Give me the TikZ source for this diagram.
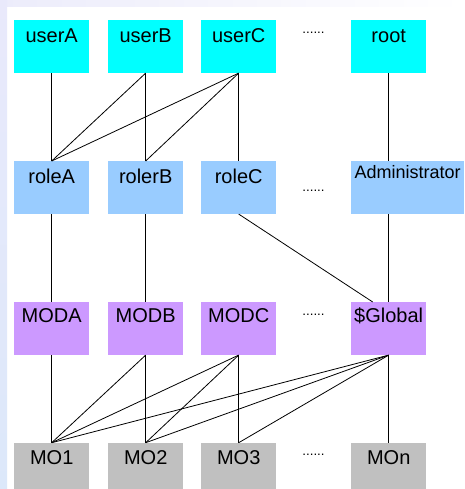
\documentclass[tikz,border=0pt]{standalone}
\usepackage{fontspec}
\setmainfont{Liberation Sans}
\definecolor{cUser}{HTML}{00FFFF}
\definecolor{cRole}{HTML}{99CCFF}
\definecolor{cMod}{HTML}{CC99FF}
\definecolor{cMo}{HTML}{C0C0C0}
\definecolor{stripTop}{HTML}{E9E9FB}
\definecolor{stripBot}{HTML}{DCE8FA}
\definecolor{topStrip}{HTML}{ECECFB}
\begin{document}
\begin{tikzpicture}[x=1pt,y=-1pt,
  box/.style={draw=none, anchor=north west, minimum width=75pt, minimum height=52.7pt,
    inner sep=0pt, text height=22.3pt, text depth=30.4pt, font=\fontsize{20}{24}\selectfont},
  modrow/.style={text height=20.7pt, text depth=32pt},
  morow/.style={text height=21.3pt, text depth=31.4pt},
  dotsnode/.style={anchor=base, inner sep=0pt, font=\fontsize{13.3}{14}\selectfont},
  link/.style={draw=black, line width=0.8pt}]
\useasboundingbox (0,0) rectangle (464,489);
\clip (0,0) rectangle (464,489);
\fill[white] (0,0) rectangle (464,489);
\shade[left color=topStrip, right color=white] (0,0) rectangle (464,7);
\shade[top color=stripTop, bottom color=stripBot] (0,0) rectangle (7,489);

% users
\node[box,fill=cUser] (ua) at (14,20) {userA};
\node[box,fill=cUser] (ub) at (108,20) {userB};
\node[box,fill=cUser] (uc) at (201,20) {userC};
\node[box,fill=cUser] (root) at (351,20) {root};
% roles
\node[box,fill=cRole] (ra) at (14,161) {roleA};
\node[box,fill=cRole] (rb) at (108,161) {rolerB};
\node[box,fill=cRole] (rc) at (201,161) {roleC};
\node[box,fill=cRole,minimum width=113pt,text height=17pt,text depth=35.7pt,
  font=\fontsize{18}{22}\selectfont] (adm) at (351,161) {Administrator};
% modules
\node[box,modrow,fill=cMod] (ma) at (14,302) {MODA};
\node[box,modrow,fill=cMod] (mb) at (108,302) {MODB};
\node[box,modrow,fill=cMod] (mc) at (201,302) {MODC};
\node[box,modrow,fill=cMod] (g) at (351,302) {\$Global};
% managed objects
\node[box,morow,fill=cMo] (m1) at (14,442.7) {MO1};
\node[box,morow,fill=cMo] (m2) at (108,442.7) {MO2};
\node[box,morow,fill=cMo] (m3) at (201,442.7) {MO3};
\node[box,morow,fill=cMo] (mn) at (351,442.7) {MOn};
% dots
\node[dotsnode] (d1) at (313.5,33.5) {......};
\node[dotsnode] (d2) at (313.5,191) {......};
\node[dotsnode] (d3) at (313.5,315) {......};
\node[dotsnode] (d4) at (313.5,455) {......};

% user -> role
\draw[link] (ua.south) -- (ra.north);
\draw[link] (ub.south) -- (ra.north);
\draw[link] (ub.south) -- (rb.north);
\draw[link] (uc.south) -- (ra.north);
\draw[link] (uc.south) -- (rb.north);
\draw[link] (uc.south) -- (rc.north);
\draw[link] (root.south) -- (root.south |- adm.north);
% role -> module
\draw[link] (ra.south) -- (ma.north);
\draw[link] (rb.south) -- (mb.north);
\draw[link] (rc.south) -- ([xshift=21.7pt]g.north west);
\draw[link] (adm.south -| g.north) -- (g.north);
% module -> MO
\draw[link] (ma.south) -- (m1.north);
\draw[link] (mb.south) -- (m1.north);
\draw[link] (mb.south) -- (m2.north);
\draw[link] (mc.south) -- (m1.north);
\draw[link] (mc.south) -- (m2.north);
\draw[link] (mc.south) -- (m3.north);
\draw[link] (g.south) -- (m1.north);
\draw[link] (g.south) -- (m2.north);
\draw[link] (g.south) -- (m3.north);
\draw[link] (g.south) -- (mn.north);
\end{tikzpicture}
\end{document}
